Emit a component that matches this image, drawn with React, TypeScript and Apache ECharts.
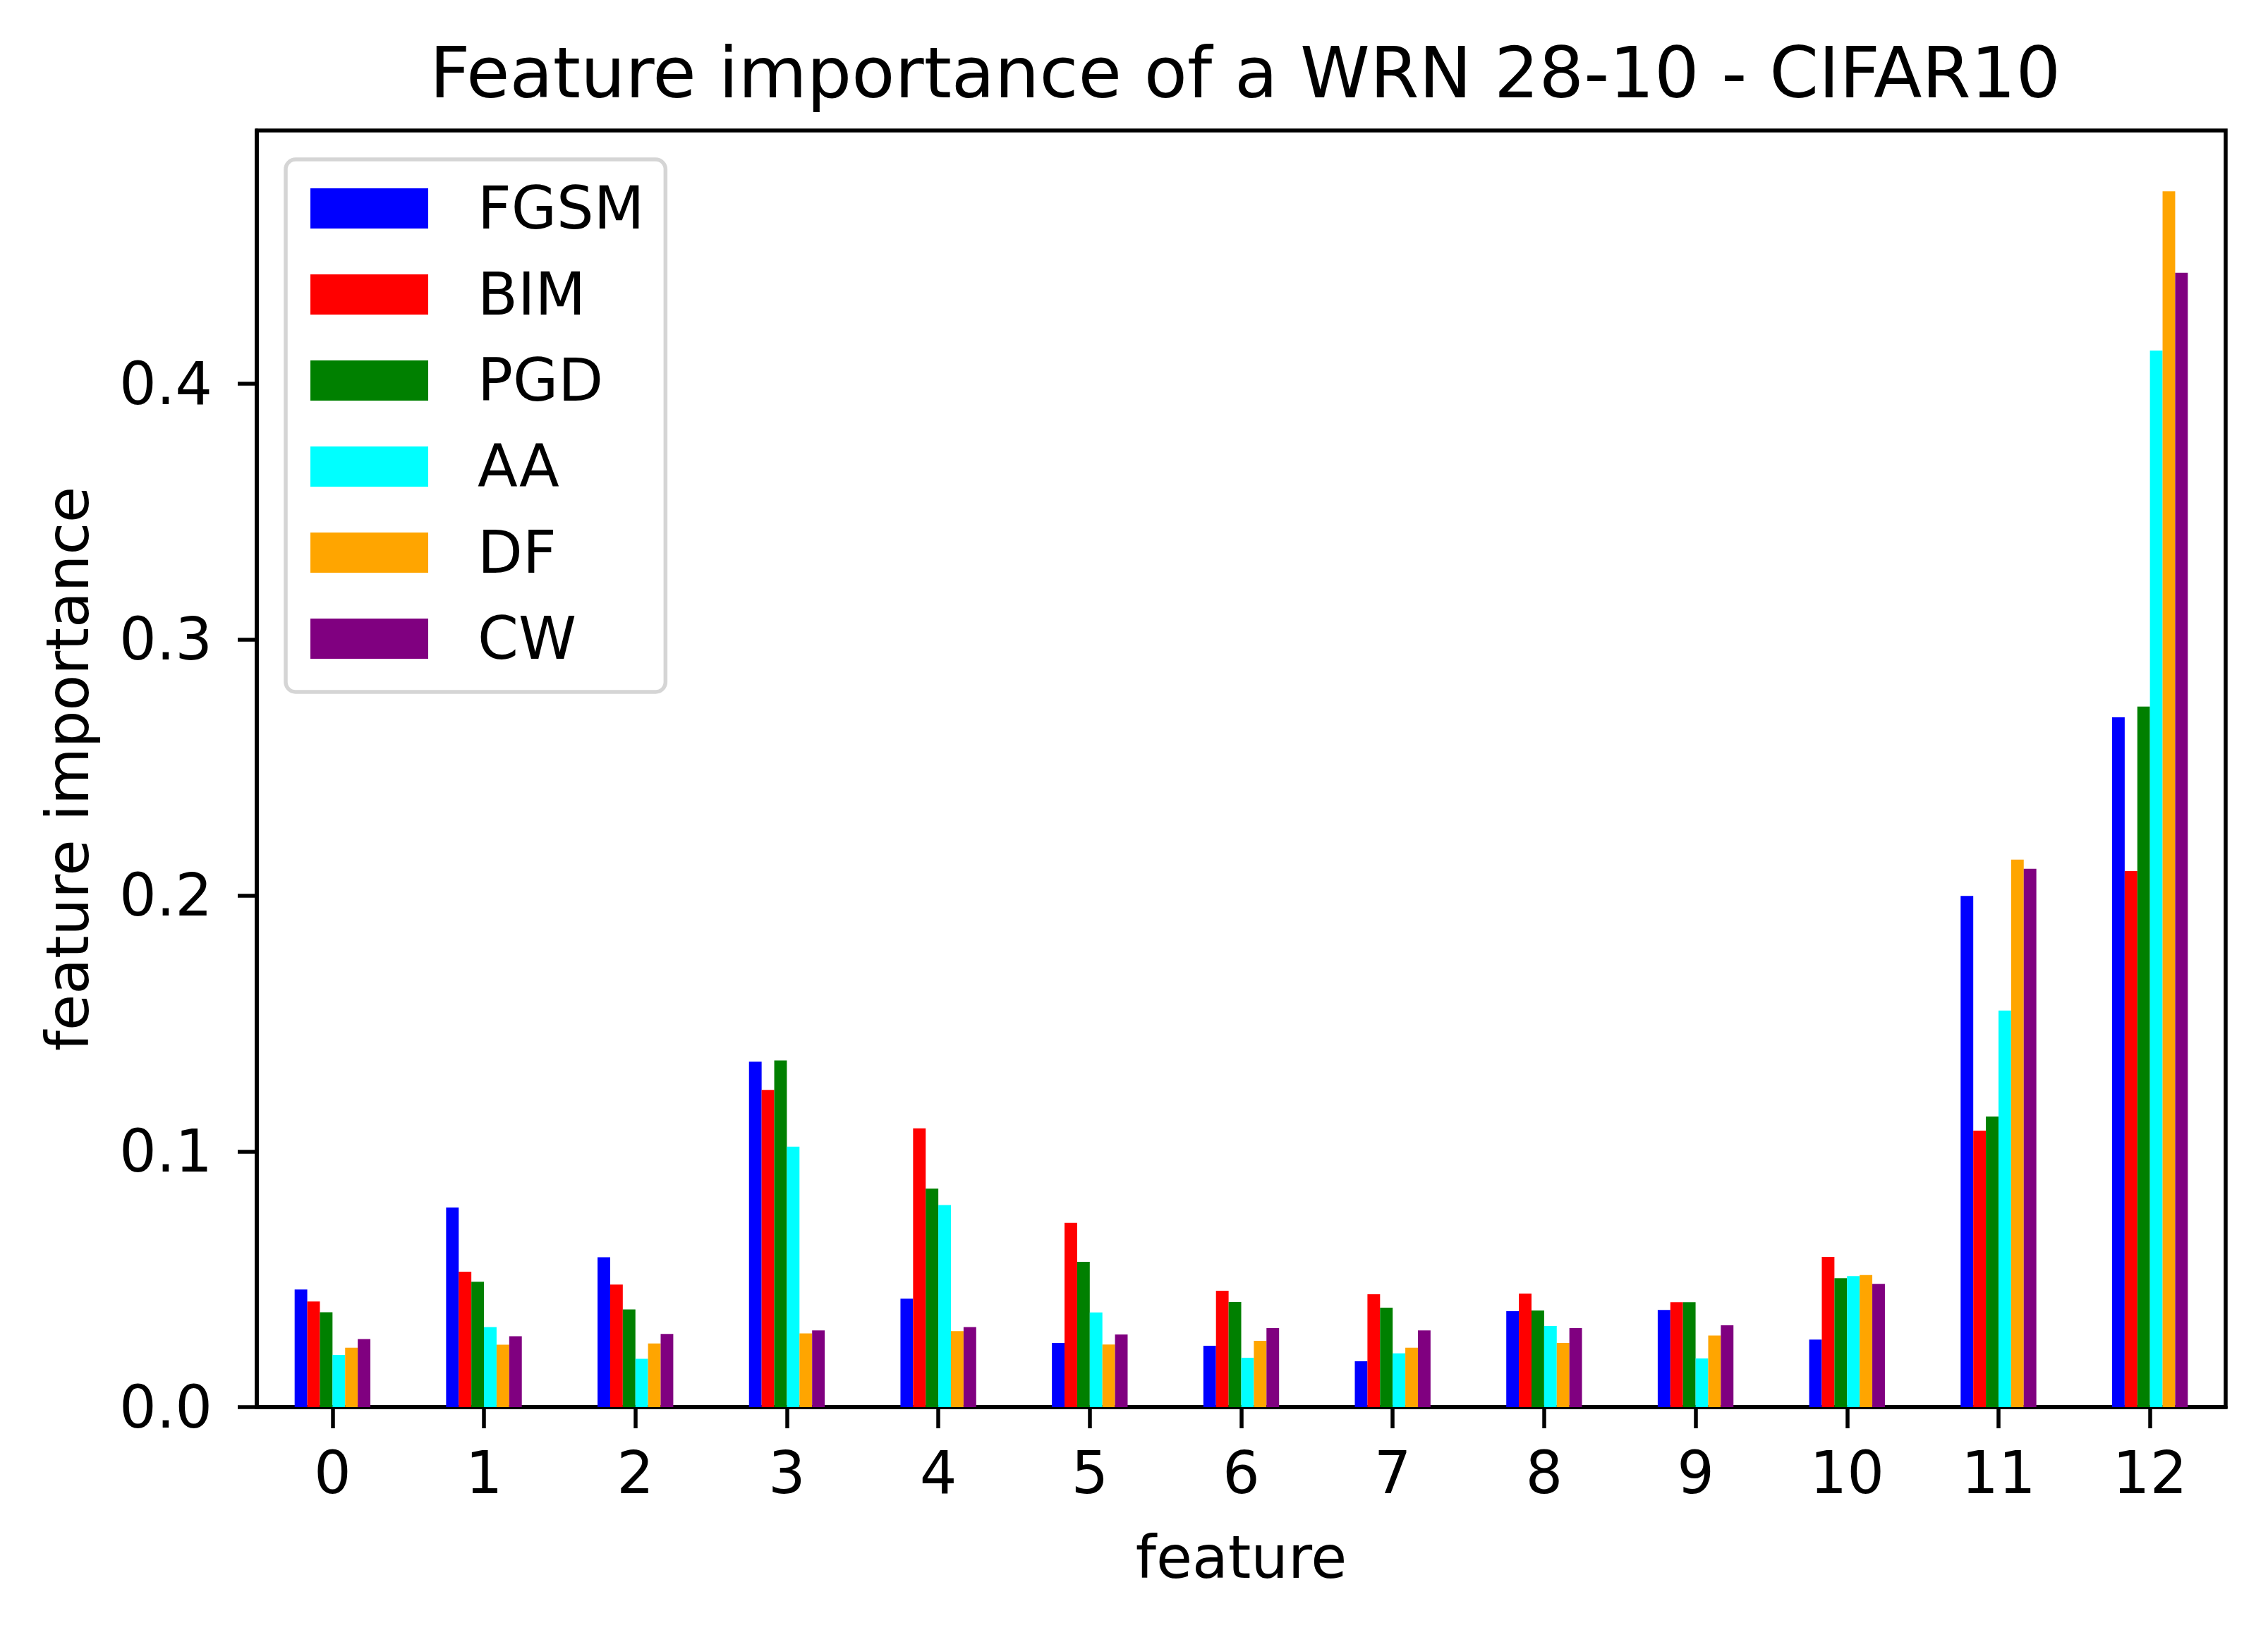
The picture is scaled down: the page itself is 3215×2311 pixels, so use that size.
import React, { useEffect, useRef } from "react";
import * as echarts from "echarts";

const categories = ["0", "1", "2", "3", "4", "5", "6", "7", "8", "9", "10", "11", "12"];
const seriesNames = ["FGSM", "BIM", "PGD", "AA", "DF", "CW"];
const seriesColors = ["#0000ff", "#ff0000", "#008000", "#00ffff", "#ffa500", "#800080"];

const fgsm = [0.046, 0.078, 0.0586, 0.135, 0.0424, 0.0251, 0.024, 0.0179, 0.0375, 0.038, 0.0264, 0.1998, 0.2696];
const bim = [0.0413, 0.0529, 0.0479, 0.124, 0.109, 0.072, 0.0455, 0.0441, 0.0444, 0.041, 0.0587, 0.1081, 0.2095];
const pgd = [0.0371, 0.049, 0.0382, 0.1355, 0.0854, 0.0568, 0.0411, 0.0389, 0.0378, 0.041, 0.0504, 0.1136, 0.2738];
const aa = [0.0204, 0.0313, 0.0189, 0.1018, 0.079, 0.037, 0.0193, 0.021, 0.0317, 0.019, 0.0512, 0.155, 0.413];
const df = [0.0232, 0.0244, 0.0249, 0.0288, 0.0297, 0.0245, 0.0259, 0.0232, 0.0251, 0.028, 0.0516, 0.214, 0.4752];
const cw = [0.0266, 0.0277, 0.0286, 0.03, 0.0313, 0.0284, 0.0309, 0.03, 0.0309, 0.032, 0.0482, 0.2104, 0.4434];

const yTicks = [0, 0.1, 0.2, 0.3, 0.4];
const yMax = 0.499;

const FONT = "DejaVu Sans";

export default function App() {
  const ref = useRef<HTMLDivElement>(null);
  useEffect(() => {
    if (!ref.current) return;
    const chart = echarts.init(ref.current, null, { renderer: "svg" });
    const allData = [fgsm, bim, pgd, aa, df, cw];
    chart.setOption({
      animation: false,
      backgroundColor: "#ffffff",
      title: {
        text: "Feature importance of a WRN 28-10 - CIFAR10",
        left: 1760,
        textAlign: "center",
        top: 48,
        textStyle: { fontFamily: FONT, fontSize: 100, fontWeight: "normal", color: "#000" },
      },
      legend: {
        orient: "vertical",
        left: 405,
        top: 226,
        padding: [28, 30, 34, 35],
        backgroundColor: "rgba(255,255,255,0.8)",
        borderColor: "#d5d5d5",
        borderWidth: 5.5,
        borderRadius: 14,
        itemWidth: 167,
        itemHeight: 57,
        itemGap: 39,
        icon: "rect",
        data: seriesNames,
        textStyle: {
          fontFamily: FONT,
          fontSize: 83,
          color: "#000",
          padding: [0, 0, 0, 65],
        },
      },
      grid: {
        left: 364,
        right: 60,
        top: 185,
        bottom: 316,
        show: true,
        borderColor: "#000",
        borderWidth: 5.5,
        backgroundColor: "transparent",
        containLabel: false,
      },
      xAxis: {
        type: "category",
        data: categories,
        boundaryGap: true,
        name: "feature",
        nameLocation: "middle",
        nameGap: 172,
        nameTextStyle: { fontFamily: FONT, fontSize: 83, color: "#000" },
        axisLine: { show: true, lineStyle: { color: "#000", width: 5.5 } },
        axisTick: { show: true, alignWithLabel: true, length: 30, lineStyle: { color: "#000", width: 5.5 } },
        axisLabel: { fontFamily: FONT, fontSize: 83, color: "#000", margin: 52 },
        splitLine: { show: false },
      },
      yAxis: {
        type: "value",
        min: 0,
        max: yMax,
        interval: 0.1,
        name: "feature importance",
        nameLocation: "middle",
        nameGap: 226,
        nameRotate: 90,
        nameTextStyle: { fontFamily: FONT, fontSize: 83, color: "#000" },
        axisLine: { show: true, lineStyle: { color: "#000", width: 5.5 } },
        axisTick: {
          show: true,
          length: 27,
          customValues: yTicks,
          lineStyle: { color: "#000", width: 5.5 },
        },
        axisLabel: {
          fontFamily: FONT,
          fontSize: 83,
          color: "#000",
          margin: 63,
          customValues: yTicks,
          formatter: (v: number) => v.toFixed(1),
        },
        splitLine: { show: false },
      },
      series: seriesNames.map((name, i) => ({
        name,
        type: "bar",
        data: allData[i],
        barGap: "0%",
        barCategoryGap: "50%",
        itemStyle: { color: seriesColors[i] },
      })),
    });
    return () => chart.dispose();
  }, []);
  return (
    <div
      ref={ref}
      style={{ position: "absolute", left: 0, top: 0, width: 3215, height: 2311 }}
    />
  );
}
